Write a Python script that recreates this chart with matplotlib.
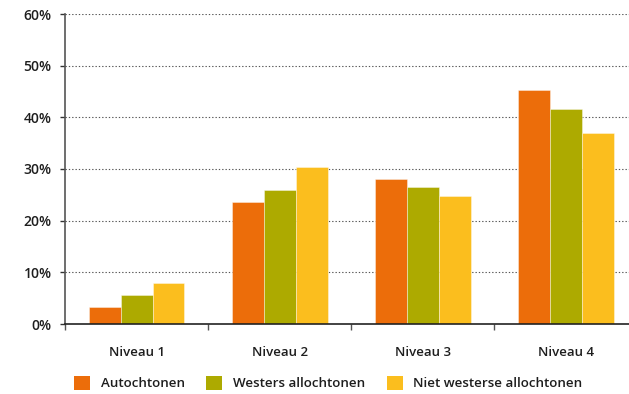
import matplotlib
matplotlib.use("Agg")
import matplotlib.pyplot as plt
import numpy as np
from matplotlib.patches import Patch

categories = ["Niveau 1", "Niveau 2", "Niveau 3", "Niveau 4"]
series_names = ["Autochtonen", "Westers allochtonen", "Niet westerse allochtonen"]
autochtonen = [3.3, 23.6, 28.0, 45.3]
westers = [5.6, 25.9, 26.5, 41.7]
niet_westers = [8.0, 30.4, 24.7, 37.0]
y_ticks = [0, 10, 20, 30, 40, 50, 60]
colors = ["#EC6D0A", "#ADAA00", "#FBBE1E"]

plt.rcParams["font.family"] = ["Open Sans", "DejaVu Sans"]
text_color = "#1e1e1e"


def main():
    fig = plt.figure(figsize=(6.29, 3.94), dpi=100)
    ax = fig.add_axes([65 / 629, 1 - 324 / 394, 1 - 65 / 629, (324 - 14) / 394])

    w = 0.223
    x = np.arange(len(categories))
    for j, vals in enumerate([autochtonen, westers, niet_westers]):
        ax.bar(x + (j - 1) * w, vals, width=w, color=colors[j],
               edgecolor=(1, 1, 1, 0.45), linewidth=0.6, zorder=3)

    ax.set_xlim(-0.5, 3.44)
    ax.set_ylim(0, 60)

    ax.set_yticks(y_ticks)
    ax.set_yticklabels([f"{t}%" for t in y_ticks])
    for t in y_ticks[1:]:
        ax.axhline(t, color="#555555", lw=0.8, ls=(0, (1.2, 1.8)), zorder=1)

    ax.set_xticks(x)
    ax.set_xticklabels(categories)
    ax.set_xticks([-0.5, 0.5, 1.5, 2.5], minor=True)
    ax.tick_params(axis="x", which="major", length=0, pad=16, labelsize=9.5,
                   labelcolor=text_color)
    ax.tick_params(axis="x", which="minor", length=4, width=1, color="#555555",
                   direction="out")
    ax.tick_params(axis="y", length=3.5, width=1, color="#333333", pad=6,
                   labelsize=10, labelcolor=text_color)
    for lab in ax.get_xticklabels() + ax.get_yticklabels():
        lab.set_fontweight("semibold")

    for s in ["top", "right"]:
        ax.spines[s].set_visible(False)
    ax.spines["left"].set_color("#555555")
    ax.spines["left"].set_linewidth(1.2)
    ax.spines["bottom"].set_color("#222222")
    ax.spines["bottom"].set_linewidth(1.2)
    ax.spines["bottom"].set_zorder(4)

    handles = [Patch(facecolor=c, edgecolor="none") for c in colors]
    leg = fig.legend(handles, series_names, loc="center", ncol=3,
                     bbox_to_anchor=(0.522, 1 - 383 / 394), frameon=False,
                     handlelength=1.2, handleheight=1.3, handletextpad=0.8,
                     columnspacing=1.6, prop={"size": 9.6, "weight": "semibold"})
    for t in leg.get_texts():
        t.set_color(text_color)

    fig.savefig("out.png", dpi=100)


if __name__ == "__main__":
    main()
